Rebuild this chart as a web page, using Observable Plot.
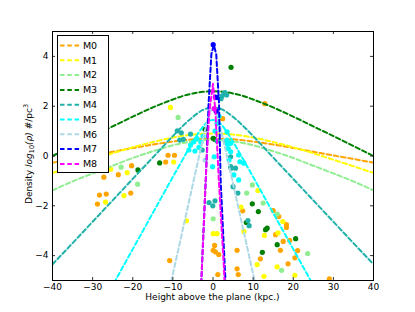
<!DOCTYPE html>
<html><head><meta charset="utf-8">
<script src="https://cdn.jsdelivr.net/npm/d3@7"></script>
<script src="https://cdn.jsdelivr.net/npm/@observablehq/plot@0.6"></script>
<style>body{margin:0;background:#fff;} svg{display:block;}</style>
</head><body><div id="chart"></div>
<script>
// ---- data ----
const models = ["M0","M1","M2","M3","M4","M5","M6","M7","M8"];
const colors = ["orange","yellow","lightgreen","green","lightseagreen","cyan","lightblue","blue","magenta"];
const xTicks = [-40,-30,-20,-10,0,10,20,30,40];
const yTicks = [-4,-2,0,2,4];

// wide profiles share one x grid
const wideX = [-40,-35,-30,-25,-20,-15,-10,-7.5,-5,-2.5,0,2.5,5,7.5,10,15,20,25,30,35,40];
const m0Y = [-0.27,-0.12,0.02,0.17,0.32,0.46,0.58,0.63,0.67,0.69,0.70,0.69,0.67,0.63,0.58,0.46,0.32,0.17,0.02,-0.12,-0.27];
const m1Y = [-0.68,-0.41,-0.15,0.11,0.35,0.56,0.74,0.81,0.86,0.89,0.90,0.89,0.86,0.81,0.74,0.56,0.35,0.11,-0.15,-0.41,-0.68];
const m2Y = [-1.38,-1.02,-0.70,-0.39,-0.08,0.19,0.43,0.52,0.59,0.635,0.65,0.635,0.59,0.52,0.43,0.19,-0.08,-0.39,-0.70,-1.02,-1.38];
const m3Y = [0.0,0.40,0.80,1.19,1.58,1.95,2.27,2.41,2.51,2.58,2.60,2.58,2.51,2.41,2.27,1.95,1.58,1.19,0.80,0.40,0.0];
const m4Y = [-4.35,-3.50,-2.64,-1.78,-0.92,-0.06,0.80,1.21,1.57,1.85,1.95,1.85,1.57,1.21,0.80,-0.06,-0.92,-1.78,-2.64,-3.50,-4.35];
// narrow profiles
const m5X = [-30,-25,-20,-15,-10,-8,-6,-4,-3,-2,-1,0,1,2,3,4,6,8,10,15,20,25,30];
const m5Y = [-6.64,-5.19,-3.74,-2.29,-0.84,-0.27,0.30,0.83,1.07,1.27,1.40,1.45,1.40,1.27,1.07,0.83,0.30,-0.27,-0.84,-2.29,-3.74,-5.19,-6.64];
const m6X = [-12,-10,-8,-6,-4,-3,-2,-1.5,-1,-0.5,0,0.5,1,1.5,2,3,4,6,8,10,12];
const m6Y = [-6.18,-4.74,-3.29,-1.84,-0.39,0.33,1.02,1.35,1.63,1.83,1.90,1.83,1.63,1.35,1.02,0.33,-0.39,-1.84,-3.29,-4.74,-6.18];
const m7X = [-3.2,-2.9,-1.6,-1.1,-0.4,0.2,0.8,1.5,1.9,3.1,3.3];
const m7Y = [-6,-5,-0.16,2.1,4.1,4.45,4.1,2.1,-0.96,-5,-6];
const m8X = [-3.2,-2.9,-1.6,-0.9,0,0.6,1.45,2.7,2.9];
const m8Y = [-6,-5,-0.2,1.8,2.9,1.8,-0.96,-4.43,-5.2];

// scattered measurements, per model
const p0X = [-20.3,-23.6,-27.2,-20.5,-28.3,-26.6,-28.8,-11.2,-9.6,-11.8,12.9,2.4,-10.8,15.0,7.4,15.6,0.4,0.05,0.6,1.45,6.0,11.8,6.0,6.3,16.4,18.3,18.3,19.1,17.5,16.8,21.1,20.4,18.7,29.0,1.2];
const p0Y = [-0.39,-0.75,-0.85,-1.49,-1.57,-1.53,-1.93,0.03,0.03,-0.24,2.1,1.5,-4.2,-2.19,-2.2,-3.16,-3.59,-3.79,-3.85,-3.96,-3.79,-4.13,-4.53,-4.76,-2.43,-2.75,-2.87,-3.39,-3.43,-3.79,-3.8,-4.09,-4.33,-4.93,-4.76];
const p1X = [-25.5,-21.4,-22.2,-26.8,-10.6,-9.8,11.2,7.0,7.7,12.8,0.05,1.0,11.0,12.7,16.0,17.4,16.2,20.4,-6.6];
const p1Y = [-0.53,-0.67,-1.59,-1.85,1.95,-0.24,-1.39,-2.05,-3.03,-3.19,-3.12,-3.12,-4.36,-4.83,-4.45,-2.63,-3.09,-4.79,-2.6];
const p2X = [-22.9,-18.8,-8.7,9.8,8.4,12.5,0.05,16.0,23.6,17.1];
const p2Y = [-0.45,-1.13,1.55,-1.16,-1.49,-1.89,-2.52,-2.33,-3.92,-4.59];
const p3X = [-18.7,4.5,-2.0,-13.3,0.05,0.4,9.8,11.3,8.3,13.1,13.5,12.3,20.6,16.0];
const p3Y = [-0.56,3.56,1.07,-0.28,0.71,0.67,-1.92,-2.23,-2.67,-2.96,-2.9,-3.87,-3.32,-3.56];
const p4X = [-8.9,-7.9,-7.4,-8.3,-5.6,-2.7,2.0,2.2,2.7,3.0,3.4,1.0,3.1,4.5,5.6,4.4,4.4,5.0,6.2,8.7,9.0,-1.0,-0.05,0.5];
const p4Y = [1.01,0.93,0.67,0.64,0.88,0.24,2.3,2.4,2.5,2.55,2.45,0.6,0.57,-0.49,-0.49,-0.03,-0.43,-1.23,-1.49,-2.59,-2.8,-1.87,-2.0,-1.8];
const p5X = [-5.6,-4.8,-4.0,-6.0,-3.5,-4.5,-3.0,-2.5,3.5,4.4,4.4,6.4,6.7,7.7,4.0,5.2,3.5,3.6,3.8,1.0,1.5,0.5,0.3,-0.1,6.4];
const p5Y = [0.44,0.57,0.7,0.24,0.35,0.2,0.55,0.8,0.97,0.51,0.17,0.04,-0.23,-0.29,-0.16,-0.76,0.64,0.48,0.3,1.3,1.6,1.0,-0.03,-0.43,-0.96];
const p6X = [-2.0];
const p6Y = [-0.16];
const p7X = [0.05,0.9,0.6,0.8];
const p7Y = [4.47,2.35,2.37,1.8];
const p8X = [0.3];
const p8Y = [1.9];

// ---- build ----
const lineSets = [[wideX,m0Y],[wideX,m1Y],[wideX,m2Y],[wideX,m3Y],[wideX,m4Y],[m5X,m5Y],[m6X,m6Y],[m7X,m7Y],[m8X,m8Y]];
const ptSets = [[p0X,p0Y],[p1X,p1Y],[p2X,p2Y],[p3X,p3Y],[p4X,p4Y],[p5X,p5Y],[p6X,p6Y],[p7X,p7Y],[p8X,p8Y]];
const zip = (xs, ys) => xs.map((x, i) => ({x, y: ys[i]}));

const marks = [];
models.forEach((m, i) => {
  marks.push(Plot.dot(zip(...ptSets[i]), {x: "x", y: "y", r: 2.6, fill: colors[i], clip: true}));
  marks.push(Plot.line(zip(...lineSets[i]), {x: "x", y: "y", stroke: colors[i], strokeWidth: 2,
    strokeDasharray: "4.5,2.8", curve: i >= 7 ? "linear" : "monotone-x", clip: true}));
});
const innerH = 312 - 31 - 32, innerW = 415 - 52 - 42;
marks.push(
  Plot.ruleX(xTicks, {x: d => d, insetTop: innerH - 3, stroke: "#333"}),
  Plot.ruleX(xTicks, {x: d => d, insetBottom: innerH - 3, stroke: "#333"}),
  Plot.ruleY(yTicks, {y: d => d, insetRight: innerW - 3, stroke: "#333"}),
  Plot.ruleY(yTicks, {y: d => d, insetLeft: innerW - 3, stroke: "#333"}),
  Plot.frame({stroke: "black"}),
  Plot.axisX(xTicks, {tickSize: 0, tickPadding: 3, label: null, fontSize: 9}),
  Plot.axisY(yTicks, {tickSize: 0, tickPadding: 4, label: null, fontSize: 9})
);

const svg = Plot.plot({
  width: 415, height: 312,
  marginLeft: 52, marginRight: 42, marginTop: 31, marginBottom: 32,
  x: {domain: [-40, 40]}, y: {domain: [-5, 5]},
  style: {fontFamily: "DejaVu Sans", fontSize: "9px", background: "white", color: "black"},
  marks
});

const s = d3.select(svg);
// x label
s.append("text").attr("x", 212.5).attr("y", 300).attr("text-anchor", "middle")
  .attr("font-size", 9).attr("fill", "black").text("Height above the plane (kpc.)");
// y label
const yl = s.append("text").attr("transform", "translate(32,154) rotate(-90)")
  .attr("text-anchor", "middle").attr("font-size", 9).attr("fill", "black");
yl.append("tspan").text("Density ");
yl.append("tspan").attr("font-style", "italic").text("log");
yl.append("tspan").attr("font-size", 6.5).attr("dy", 2).text("10");
yl.append("tspan").attr("dy", -2).attr("font-style", "italic").text("(ρ)");
yl.append("tspan").text(" #/pc");
yl.append("tspan").attr("font-size", 6.5).attr("dy", -4).text("3");
// legend
const lg = s.append("g");
lg.append("rect").attr("x", 57.5).attr("y", 35.5).attr("width", 51).attr("height", 137)
  .attr("fill", "white").attr("stroke", "black");
models.forEach((m, i) => {
  const y = 45.5 + i * 14.8;
  lg.append("line").attr("x1", 60).attr("x2", 82).attr("y1", y).attr("y2", y)
    .attr("stroke", colors[i]).attr("stroke-width", 2).attr("stroke-dasharray", "4.5,2.8");
  lg.append("text").attr("x", 90).attr("y", y).attr("dy", "0.35em").attr("font-size", 9.5)
    .attr("fill", "black").text(m);
});
document.getElementById("chart").appendChild(svg);
</script>
</body></html>
